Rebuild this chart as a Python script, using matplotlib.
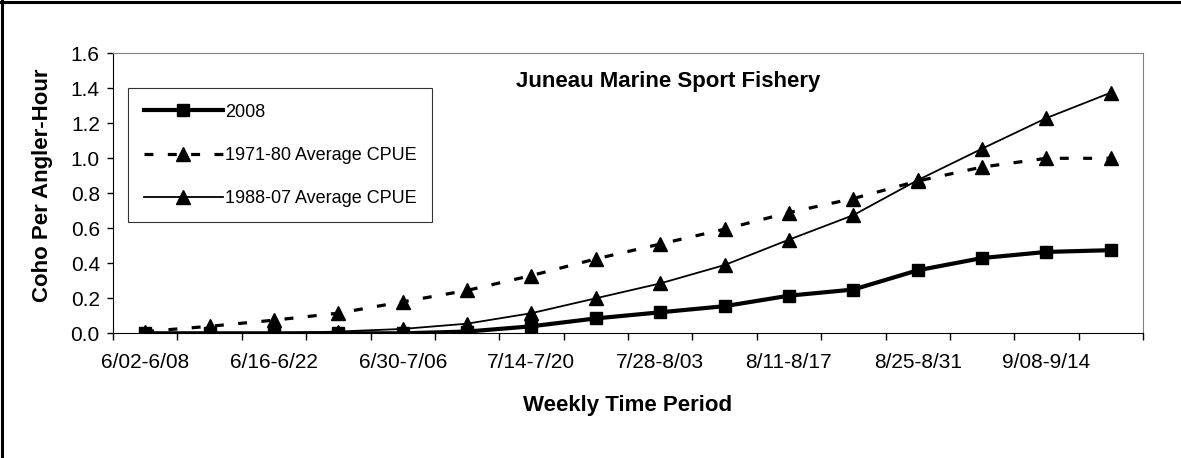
import matplotlib.pyplot as plt
from matplotlib.lines import Line2D

plt.rcParams['font.family'] = ['Liberation Sans', 'DejaVu Sans']

weeks = ['6/02-6/08', '6/09-6/15', '6/16-6/22', '6/23-6/29', '6/30-7/06',
         '7/07-7/13', '7/14-7/20', '7/21-7/27', '7/28-8/03', '8/04-8/10',
         '8/11-8/17', '8/18-8/24', '8/25-8/31', '9/01-9/07', '9/08-9/14',
         '9/15-9/21']
cpue_2008 = [0.0, 0.0, 0.0, 0.0, 0.0, 0.01, 0.04, 0.085, 0.12, 0.155,
             0.215, 0.25, 0.36, 0.43, 0.465, 0.475]
cpue_1971_80 = [0.01, 0.04, 0.075, 0.115, 0.18, 0.245, 0.33, 0.425, 0.51,
                0.595, 0.69, 0.77, 0.87, 0.95, 1.0, 1.0]
cpue_1988_07 = [0.0, 0.0, 0.0, 0.01, 0.025, 0.055, 0.115, 0.2, 0.285,
                0.39, 0.535, 0.675, 0.875, 1.055, 1.23, 1.375]

fig = plt.figure(figsize=(11.81, 4.58), dpi=100)
ax = fig.add_axes([113 / 1181, 1 - 333.3 / 458, 1030 / 1181, 280 / 458])

x = list(range(len(weeks)))
ax.plot(x, cpue_2008, color='black', lw=3, marker='s', ms=8.5, label='2008')
ax.plot(x, cpue_1971_80, color='black', lw=2.3, ls=(0, (2.8, 4.5)),
        marker='^', ms=9.5, label='1971-80 Average CPUE')
ax.plot(x, cpue_1988_07, color='black', lw=1.3, marker='^', ms=9.5,
        label='1988-07 Average CPUE')

ax.set_xlim(-0.5, len(weeks) - 0.5)
ax.set_ylim(0, 1.6)
ax.set_yticks([i * 0.2 for i in range(9)])
ax.set_yticklabels(['%.1f' % (i * 0.2) for i in range(9)], fontsize=15)
ax.set_xticks(x[::2])
ax.set_xticklabels(weeks[::2], fontsize=15)
ax.set_xticks([i - 0.5 for i in range(len(weeks) + 1)], minor=True)
ax.tick_params(axis='x', which='major', length=0, pad=14)
ax.tick_params(axis='x', which='minor', length=5, direction='out', width=1)
ax.tick_params(axis='y', length=4, width=1, direction='out', pad=5.5)

for s in ['top', 'right']:
    ax.spines[s].set_color('#808080')
for s in ['left', 'bottom']:
    ax.spines[s].set_color('black')

ax.set_xlabel('Weekly Time Period', fontsize=16, fontweight='bold')
ax.xaxis.set_label_coords(0.5, -0.222)
ax.set_ylabel('Coho Per Angler-Hour', fontsize=16, fontweight='bold')
ax.yaxis.set_label_coords(-0.058, 0.53)
ax.text(0.539, 0.901, 'Juneau Marine Sport Fishery', transform=ax.transAxes,
        ha='center', va='center', fontsize=16, fontweight='bold')

leg = ax.legend(loc='upper left', bbox_to_anchor=(0.0148, 0.875),
                fontsize=13, frameon=True, fancybox=False, edgecolor='black',
                handlelength=4.4, handletextpad=0.1, labelspacing=1.45,
                borderpad=0.85, borderaxespad=0)
leg.get_frame().set_linewidth(0.8)

# outer chart frame (only top and left edges are visible in the original)
fig.add_artist(Line2D([0.0015, 0.0015], [0, 0.997], transform=fig.transFigure,
                      color='black', lw=2.2))
fig.add_artist(Line2D([0, 1], [0.9965, 0.9965], transform=fig.transFigure,
                      color='black', lw=2.2))

fig.savefig('out.png', dpi=100)
